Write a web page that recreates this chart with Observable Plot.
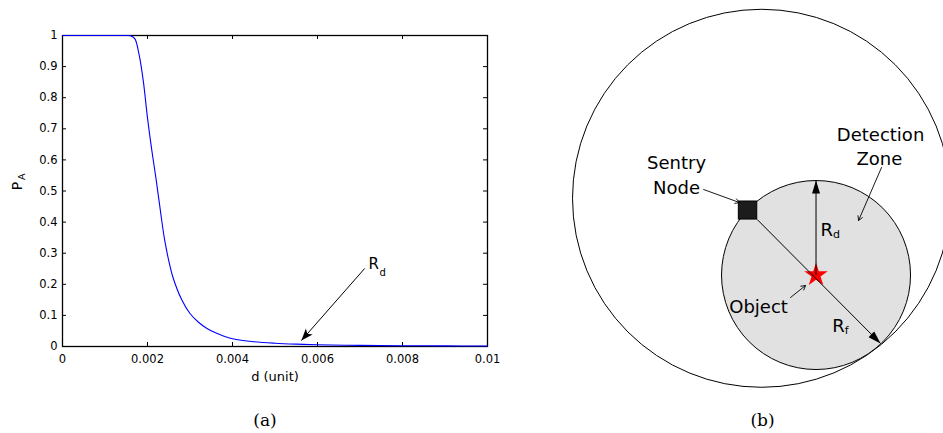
<!DOCTYPE html>
<html>
<head>
<meta charset="utf-8">
<script src="https://cdn.jsdelivr.net/npm/d3@7"></script>
<script src="https://cdn.jsdelivr.net/npm/@observablehq/plot@0.6"></script>
<style>
  html, body { margin: 0; padding: 0; background: #fff; }
  #wrap { position: relative; width: 943px; height: 433px; overflow: hidden; background: #fff; }
  #pa { position: absolute; left: 0; top: 0; }
  #pb { position: absolute; left: 560px; top: 0; }
  #pa g[aria-label="x-axis tick label"], #pa g[aria-label="y-axis tick label"] { font-size: 11.5px !important; }
</style>
</head>
<body>
<div id="wrap"><div id="pa"></div><div id="pb"></div></div>
<script>
// ---------- Panel (a) data ----------
const xTicks = [0, 0.002, 0.004, 0.006, 0.008, 0.01];
const xTickLabels = ["0", "0.002", "0.004", "0.006", "0.008", "0.01"];
const yTicks = [0, 0.1, 0.2, 0.3, 0.4, 0.5, 0.6, 0.7, 0.8, 0.9, 1];
const yTickLabels = ["0", "0.1", "0.2", "0.3", "0.4", "0.5", "0.6", "0.7", "0.8", "0.9", "1"];
const xLabel = "d (unit)";
const yLabelMain = "P";
const yLabelSub = "A";
const captionA = "(a)";

const dValues  = [0, 0.0005, 0.001, 0.0015, 0.0016, 0.0017, 0.0018, 0.0019, 0.002, 0.0021, 0.0022, 0.0023, 0.0024, 0.0025, 0.0026, 0.0028, 0.003, 0.0032, 0.0034, 0.0036, 0.0038, 0.004, 0.0045, 0.005, 0.0055, 0.006, 0.007, 0.008, 0.009, 0.01];
const paValues = [1, 1, 1, 1, 0.999, 0.99, 0.94, 0.855, 0.735, 0.632, 0.54, 0.44, 0.345, 0.276, 0.222, 0.152, 0.106, 0.078, 0.058, 0.044, 0.033, 0.025, 0.0155, 0.0105, 0.0075, 0.0055, 0.0035, 0.0025, 0.002, 0.0015];

// annotation arrow "R_d" in panel (a)
const annotA = {x1: 0.00711, y1: 0.251, x2: 0.00562, y2: 0.019, main: "R", sub: "d", lx: 0.0072, ly: 0.25};

// ---------- Panel (b) data (units of detection radius R_d) ----------
const circleX = [-0.577, 0];
const circleY = [0.812, 0];
const circleR = [2.0, 1.0];
const objectPos = [{x: 0, y: 0}];
const sentryNode = [{x1: -0.817, x2: -0.622, y1: 0.587, y2: 0.778}];
const radiusArrows = [
  {x1: 0, y1: 0, x2: 0, y2: 1},               // R_d
  {x1: -0.622, y1: 0.587, x2: 0.683, y2: -0.725} // R_f
];
const pointerArrows = [
  {x1: -1.19, y1: 0.905, x2: -0.81, y2: 0.767},   // Sentry Node
  {x1: 0.693, y1: 1.138, x2: 0.45, y2: 0.577},    // Detection Zone
  {x1: -0.27, y1: -0.238, x2: -0.111, y2: -0.111} // Object
];
const bLabels = ["Detection", "Zone", "Sentry", "Node", "Object"];
const bLabelX = [0.683, 0.67, -1.476, -1.476, -0.608];
const bLabelY = [1.423, 1.159, 1.127, 0.862, -0.397];
const radiusLabelSubs = ["d", "f"];
const radiusLabelX = [0.048, 0.171];
const radiusLabelY = [0.418, -0.605];
const captionB = "(b)";

// ---------- helpers ----------
function headSymbol(len, half, notch) {
  return {
    draw(ctx) {
      ctx.moveTo(0, 0);
      ctx.lineTo(-half, len);
      ctx.lineTo(0, len - notch);
      ctx.lineTo(half, len);
      ctx.closePath();
    }
  };
}
const FONT = "DejaVu Sans";

// ---------- Panel (a) ----------
const A = {width: 520, height: 433, mL: 62, mR: 33, mT: 35, mB: 87};
const frameW = A.width - A.mL - A.mR;
const frameH = A.height - A.mT - A.mB;
const pxPerX = frameW / (xTicks[xTicks.length - 1] - xTicks[0]);
const pxPerY = frameH / (yTicks[yTicks.length - 1] - yTicks[0]);
const angleA = Math.atan2((annotA.x2 - annotA.x1) * pxPerX, (annotA.y2 - annotA.y1) * pxPerY) * 180 / Math.PI;

const curve = dValues.map((d, i) => ({d, p: paValues[i]}));

const plotA = Plot.plot({
  width: A.width, height: A.height,
  marginLeft: A.mL, marginRight: A.mR, marginTop: A.mT, marginBottom: A.mB,
  x: {domain: [0, 0.01]},
  y: {domain: [0, 1]},
  style: {fontFamily: FONT, fontSize: "11.5px", color: "black", background: "white", overflow: "visible"},
  marks: [
    Plot.frame({stroke: "black", strokeWidth: 1.3}),
    Plot.tickX(xTicks, {x: d => d, insetTop: frameH - 4, stroke: "black"}),
    Plot.tickX(xTicks, {x: d => d, insetBottom: frameH - 4, stroke: "black"}),
    Plot.tickY(yTicks, {y: d => d, insetRight: frameW - 4, stroke: "black"}),
    Plot.tickY(yTicks, {y: d => d, insetLeft: frameW - 4, stroke: "black"}),
    Plot.axisX({ticks: xTicks, tickSize: 0, tickPadding: 8, label: null,
      tickFormat: d => xTickLabels[xTicks.indexOf(d)], fontSize: 11.5}),
    Plot.axisY({ticks: yTicks, tickSize: 0, tickPadding: 5, label: null,
      tickFormat: d => yTickLabels[yTicks.indexOf(d)], fontSize: 11.5}),
    Plot.line(curve, {x: "d", y: "p", stroke: "#0000ff", strokeWidth: 1.1, curve: "catmull-rom"}),
    Plot.link([annotA], {x1: "x1", y1: "y1", x2: "x2", y2: "y2", stroke: "black", strokeWidth: 1}),
    Plot.dot([annotA], {x: "x2", y: "y2", symbol: headSymbol(12, 4.5, 3), rotate: angleA, fill: "black", stroke: "none"}),
    Plot.text([annotA], {x: "lx", y: "ly", text: "main", textAnchor: "start", lineAnchor: "bottom", fontSize: 15}),
    Plot.text([annotA], {x: "lx", y: "ly", text: "sub", textAnchor: "start", lineAnchor: "bottom", fontSize: 10, dx: 11, dy: 7}),
    Plot.text([xLabel], {frameAnchor: "bottom", dy: 34.5, lineAnchor: "bottom", fontSize: 13}),
    Plot.text([yLabelMain], {frameAnchor: "left", dx: -41, dy: -5, rotate: -90, textAnchor: "middle", lineAnchor: "bottom", fontSize: 14}),
    Plot.text([yLabelSub], {frameAnchor: "left", dx: -38, dy: -11, rotate: -90, textAnchor: "start", lineAnchor: "bottom", fontSize: 9.5}),
    Plot.text([captionA], {frameAnchor: "bottom", dx: -10, dy: 79.5, lineAnchor: "bottom", fontSize: 17, fontFamily: "DejaVu Serif"})
  ]
});
document.getElementById("pa").append(plotA);

// ---------- Panel (b) ----------
const B = {width: 383, height: 433};
const unitPx = 94.5;
const bXmin = -2.704, bYmax = 2.905;
const circles = circleX.map((x, i) => ({x, y: circleY[i], r: circleR[i]}));
const labels = bLabels.map((t, i) => ({t, x: bLabelX[i], y: bLabelY[i]}));
const rLabels = radiusLabelSubs.map((s, i) => ({main: "R", sub: s, x: radiusLabelX[i], y: radiusLabelY[i]}));
const heads = radiusArrows.map(a => ({...a, angle: Math.atan2(a.x2 - a.x1, a.y2 - a.y1) * 180 / Math.PI}));

const plotB = Plot.plot({
  width: B.width, height: B.height, margin: 0,
  x: {domain: [bXmin, bXmin + B.width / unitPx], axis: null},
  y: {domain: [bYmax - B.height / unitPx, bYmax], axis: null},
  r: {type: "linear", domain: [0, 1], range: [0, unitPx]},
  style: {fontFamily: FONT, fontSize: "18px", color: "black", background: "white"},
  marks: [
    Plot.dot([circles[0]], {x: "x", y: "y", r: "r", fill: "none", stroke: "black", strokeWidth: 1}),
    Plot.dot([circles[1]], {x: "x", y: "y", r: "r", fill: "#e1e1e1", stroke: "black", strokeWidth: 1}),
    Plot.dot(objectPos, {x: "x", y: "y", symbol: "star", r: 7.4, fill: "#ff0000", stroke: "none"}),
    Plot.link(radiusArrows, {x1: "x1", y1: "y1", x2: "x2", y2: "y2", stroke: "black", strokeWidth: 1}),
    Plot.dot(heads, {x: "x2", y: "y2", symbol: headSymbol(13, 4, 0), rotate: "angle", fill: "black", stroke: "none"}),
    Plot.rect(sentryNode, {x1: "x1", x2: "x2", y1: "y1", y2: "y2", fill: "#1c1c1c", stroke: "black", strokeWidth: 1}),
    Plot.arrow(pointerArrows, {x1: "x1", y1: "y1", x2: "x2", y2: "y2", stroke: "black", strokeWidth: 0.9, headLength: 8}),
    Plot.text(labels, {x: "x", y: "y", text: "t", textAnchor: "middle", lineAnchor: "bottom", fontSize: 18}),
    Plot.text(rLabels, {x: "x", y: "y", text: "main", textAnchor: "start", lineAnchor: "bottom", fontSize: 18}),
    Plot.text(rLabels, {x: "x", y: "y", text: "sub", textAnchor: "start", lineAnchor: "bottom", fontSize: 11, dx: 12.5, dy: 2}),
    Plot.text([captionB], {frameAnchor: "bottom", dx: 10.5, dy: -8, lineAnchor: "bottom", fontSize: 17, fontFamily: "DejaVu Serif"})
  ]
});
document.getElementById("pb").append(plotB);
</script>
</body>
</html>
